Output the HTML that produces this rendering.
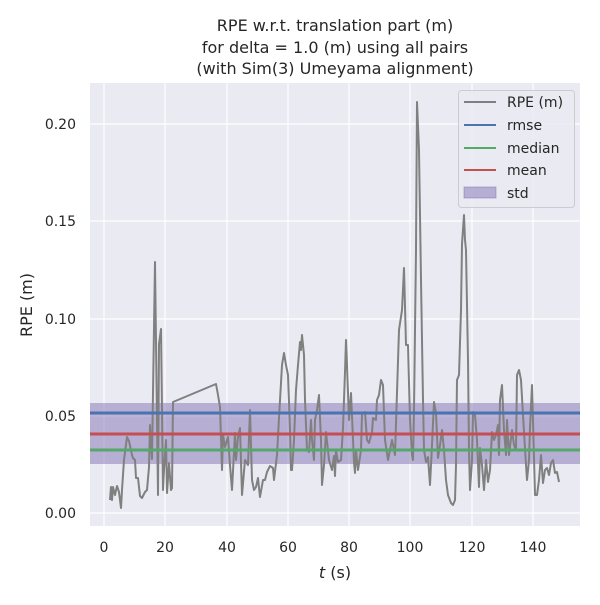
<!DOCTYPE html>
<html><head><meta charset="utf-8"><style>
body{margin:0;background:#fff}
svg text{font-family:"DejaVu Sans","Liberation Sans",sans-serif;fill:#262626}
</style></head><body>
<svg width="600" height="600" viewBox="0 0 600 600">
<rect x="90" y="83" width="490" height="443" fill="#eaeaf2"/>
<g stroke="#fff" stroke-width="1.2">
<line x1="104" y1="83" x2="104" y2="526"/><line x1="165" y1="83" x2="165" y2="526"/><line x1="227" y1="83" x2="227" y2="526"/><line x1="288" y1="83" x2="288" y2="526"/><line x1="349" y1="83" x2="349" y2="526"/><line x1="410" y1="83" x2="410" y2="526"/><line x1="472" y1="83" x2="472" y2="526"/><line x1="533" y1="83" x2="533" y2="526"/>
<line x1="90" y1="513" x2="580" y2="513"/><line x1="90" y1="416" x2="580" y2="416"/><line x1="90" y1="319" x2="580" y2="319"/><line x1="90" y1="221" x2="580" y2="221"/><line x1="90" y1="124" x2="580" y2="124"/>
</g>
<rect x="90" y="403" width="490" height="61" fill="#8172b3" fill-opacity="0.5"/>
<polyline fill="none" stroke="#808080" stroke-width="2" stroke-linejoin="round" points="110,500 111,487 112,500 113,487 115,495 117,486 119,492 121,508 122,490 124,460 127,437 129,441 132,455 133,458 135,460 136,478 138,478 140,496 142,498 145,492 147,490 149,467 150,425 151,445 152,459 155,262 157,420 158,495 159,344 161,329 163,490 164,470 166,440 167,493 169,463 171,490 172,488 173,402 216,384 218,395 220,407 222,470 223,435 225,447 228,437 230,465 232,490 235,433 236,460 238,437 240,428 242,495 245,460 248,465 250,410 252,480 254,490 256,487 258,478 260,497 263,480 265,480 267,472 270,466 273,468 274,480 277,455 279,418 282,365 284,353 286,365 288,375 290,430 291,470 292,470 294,440 296,390 298,365 300,342 301,350 302,335 304,355 305,400 307,450 309,452 311,420 312,440 314,460 315,420 317,410 319,395 321,440 322,485 324,465 326,432 329,460 332,470 334,456 335,476 336,450 338,462 341,460 343,428 345,372 346,340 347,365 349,420 351,393 354,462 355,473 356,450 358,470 361,450 362,414 365,412 367,440 369,443 372,432 373,418 376,420 377,400 379,395 381,380 383,385 385,440 388,460 392,440 395,455 399,330 402,310 404,268 406,345 408,345 410,420 412,455 413,460 414,410 416,250 417,102 419,150 421,280 423,400 424,450 426,462 428,457 430,485 432,445 434,402 436,413 438,458 440,445 442,430 444,450 446,480 448,495 451,503 453,505 455,500 456,465 457,380 459,375 461,310 462,244 464,215 465,240 466,250 468,360 469,450 470,490 472,460 473,412 475,415 477,440 479,487 480,448 482,465 484,490 486,460 488,482 490,470 492,432 494,440 496,435 498,425 499,455 500,400 502,385 504,430 506,455 507,420 509,455 512,430 514,445 516,450 517,375 519,370 521,380 523,415 526,465 527,480 529,460 530,428 532,385 535,495 537,495 539,480 541,455 543,483 545,470 547,468 549,475 551,463 553,460 555,473 557,472 559,482"/>
<line x1="90" y1="413" x2="580" y2="413" stroke="#4c72b0" stroke-width="3"/>
<line x1="90" y1="450" x2="580" y2="450" stroke="#55a868" stroke-width="3"/>
<line x1="90" y1="434" x2="580" y2="434" stroke="#c44e52" stroke-width="3"/>
<g font-size="14" text-anchor="middle">
<text x="104" y="552">0</text><text x="165" y="552">20</text><text x="227" y="552">40</text><text x="288" y="552">60</text><text x="349" y="552">80</text><text x="410" y="552">100</text><text x="472" y="552">120</text><text x="533" y="552">140</text>
</g>
<g font-size="14" text-anchor="end">
<text x="76" y="518">0.00</text><text x="76" y="421">0.05</text><text x="76" y="324">0.10</text><text x="76" y="226">0.15</text><text x="76" y="129">0.20</text>
</g>
<text x="335" y="578" font-size="16" text-anchor="middle"><tspan font-style="italic">t</tspan> (s)</text>
<text transform="translate(32,305) rotate(-90)" font-size="16" text-anchor="middle">RPE (m)</text>
<g font-size="16" text-anchor="middle">
<text x="335" y="31">RPE w.r.t. translation part (m)</text>
<text x="335" y="53">for delta = 1.0 (m) using all pairs</text>
<text x="335" y="74">(with Sim(3) Umeyama alignment)</text>
</g>
<rect x="458.5" y="90.5" width="116" height="117" rx="3" fill="#eaeaf2" fill-opacity="0.8" stroke="#ccc"/>
<line x1="464" y1="102" x2="496" y2="102" stroke="#808080" stroke-width="2"/>
<line x1="464" y1="125" x2="496" y2="125" stroke="#4c72b0" stroke-width="2"/>
<line x1="464" y1="148" x2="496" y2="148" stroke="#55a868" stroke-width="2"/>
<line x1="464" y1="170" x2="496" y2="170" stroke="#c44e52" stroke-width="2"/>
<rect x="464" y="187" width="32" height="11" fill="#8172b3" fill-opacity="0.5" stroke="#8172b3" stroke-opacity="0.5"/>
<g font-size="14">
<text x="507" y="107">RPE (m)</text><text x="507" y="130">rmse</text><text x="507" y="153">median</text><text x="507" y="175">mean</text><text x="507" y="198">std</text>
</g>
</svg>
</body></html>
